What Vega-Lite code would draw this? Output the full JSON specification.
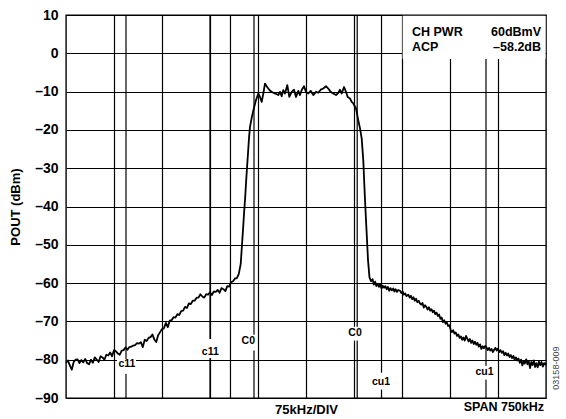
{
  "$schema": "https://vega.github.io/schema/vega-lite/v6.json",
  "width": 480,
  "height": 383,
  "autosize": "none",
  "padding": {"left": 66, "top": 15, "right": 20, "bottom": 21},
  "background": "white",
  "config": {
    "view": {"stroke": "black", "strokeWidth": 1.4},
    "font": "Liberation Sans",
    "axis": {
      "grid": true, "gridColor": "black", "gridOpacity": 1, "gridWidth": 1.2,
      "domain": false, "ticks": false,
      "labelFont": "Liberation Sans", "labelFontWeight": "bold", "labelColor": "black",
      "titleFont": "Liberation Sans", "titleFontWeight": "bold", "titleColor": "black"
    }
  },
  "datasets": {
    "trace": [
      {"f": -375, "db": -80.8}, {"f": -372, "db": -80.2}, {"f": -369, "db": -81.5}, {"f": -366, "db": -82.6},
      {"f": -363, "db": -80.6}, {"f": -360, "db": -80.0}, {"f": -357, "db": -79.9}, {"f": -354, "db": -80.9},
      {"f": -351, "db": -80.1}, {"f": -348, "db": -80.7}, {"f": -345, "db": -79.8}, {"f": -342, "db": -80.9},
      {"f": -339, "db": -81.2}, {"f": -336, "db": -80.0}, {"f": -333, "db": -80.8}, {"f": -330, "db": -79.4},
      {"f": -327, "db": -80.0}, {"f": -324, "db": -80.6}, {"f": -321, "db": -79.1}, {"f": -318, "db": -79.4},
      {"f": -315, "db": -80.0}, {"f": -312, "db": -78.7}, {"f": -309, "db": -78.9}, {"f": -306, "db": -78.1},
      {"f": -303, "db": -79.1}, {"f": -300, "db": -77.5}, {"f": -297, "db": -77.8}, {"f": -294, "db": -78.4},
      {"f": -291, "db": -78.7}, {"f": -288, "db": -77.6}, {"f": -285, "db": -77.5}, {"f": -282, "db": -76.8},
      {"f": -279, "db": -77.4}, {"f": -276, "db": -76.7}, {"f": -273, "db": -76.6}, {"f": -270, "db": -76.3},
      {"f": -267, "db": -76.2}, {"f": -264, "db": -75.7}, {"f": -261, "db": -75.8}, {"f": -258, "db": -75.4},
      {"f": -255, "db": -76.7}, {"f": -252, "db": -74.8}, {"f": -249, "db": -75.1}, {"f": -246, "db": -74.3},
      {"f": -243, "db": -74.1}, {"f": -240, "db": -73.4}, {"f": -237, "db": -74.7}, {"f": -234, "db": -75.4},
      {"f": -231, "db": -73.6}, {"f": -228, "db": -72.8}, {"f": -225, "db": -72.0}, {"f": -222, "db": -71.8},
      {"f": -219, "db": -70.4}, {"f": -216, "db": -71.5}, {"f": -213, "db": -69.8}, {"f": -210, "db": -69.7},
      {"f": -207, "db": -68.9}, {"f": -204, "db": -69.0}, {"f": -201, "db": -68.1}, {"f": -198, "db": -68.3},
      {"f": -195, "db": -67.3}, {"f": -192, "db": -67.2}, {"f": -189, "db": -66.2}, {"f": -186, "db": -66.5},
      {"f": -183, "db": -65.3}, {"f": -180, "db": -65.5}, {"f": -177, "db": -64.6}, {"f": -174, "db": -64.6},
      {"f": -171, "db": -63.8}, {"f": -168, "db": -63.8}, {"f": -165, "db": -62.9}, {"f": -162, "db": -63.5},
      {"f": -159, "db": -63.8}, {"f": -156, "db": -62.9}, {"f": -153, "db": -63.0}, {"f": -150, "db": -62.4},
      {"f": -147, "db": -63.1}, {"f": -144, "db": -62.2}, {"f": -141, "db": -62.3}, {"f": -138, "db": -61.8},
      {"f": -135, "db": -62.5}, {"f": -132, "db": -61.3}, {"f": -129, "db": -61.6}, {"f": -126, "db": -62.1},
      {"f": -123, "db": -60.8}, {"f": -120, "db": -60.9}, {"f": -117, "db": -59.8}, {"f": -114, "db": -59.5},
      {"f": -111, "db": -58.8}, {"f": -108, "db": -58.7}, {"f": -105, "db": -57.6}, {"f": -102, "db": -55.0},
      {"f": -100, "db": -50.0}, {"f": -98, "db": -45.0}, {"f": -96.5, "db": -41.0}, {"f": -95.3, "db": -38.3},
      {"f": -93, "db": -32.0}, {"f": -91, "db": -27.0}, {"f": -89, "db": -22.0}, {"f": -87.5, "db": -19.2},
      {"f": -85, "db": -17.0}, {"f": -82.3, "db": -14.9}, {"f": -78.1, "db": -12.2}, {"f": -74.5, "db": -10.5},
      {"f": -71.9, "db": -11.4}, {"f": -69.2, "db": -12.7}, {"f": -66.7, "db": -10.5}, {"f": -64.1, "db": -7.9},
      {"f": -61.5, "db": -8.6}, {"f": -58.9, "db": -9.2}, {"f": -56, "db": -9.8}, {"f": -53.6, "db": -10.07},
      {"f": -51, "db": -10.3}, {"f": -48.4, "db": -10.5}, {"f": -45.8, "db": -10.7}, {"f": -43.3, "db": -10.9},
      {"f": -40.6, "db": -10.07}, {"f": -38, "db": -11.2}, {"f": -35.5, "db": -9.6}, {"f": -32.8, "db": -10.5},
      {"f": -29.2, "db": -8.3}, {"f": -26.1, "db": -11.4}, {"f": -22.3, "db": -10.07}, {"f": -18.75, "db": -9.5},
      {"f": -15.6, "db": -11.4}, {"f": -12, "db": -9.8}, {"f": -9.4, "db": -10.9}, {"f": -6.7, "db": -9.6},
      {"f": -3.1, "db": -8.6}, {"f": 0, "db": -10.07}, {"f": 3.6, "db": -10.5}, {"f": 7.3, "db": -9.8},
      {"f": 11.4, "db": -10.9}, {"f": 15.6, "db": -10.07}, {"f": 19.2, "db": -10.3}, {"f": 23, "db": -9.5},
      {"f": 27, "db": -9.2}, {"f": 31.25, "db": -8.6}, {"f": 34.8, "db": -9.2}, {"f": 38.6, "db": -10.07},
      {"f": 42.7, "db": -10.5}, {"f": 46.9, "db": -10.9}, {"f": 50.5, "db": -10.3}, {"f": 53.1, "db": -9.5},
      {"f": 55.8, "db": -10.5}, {"f": 59.4, "db": -8.8}, {"f": 62.5, "db": -10.07}, {"f": 65.2, "db": -11.4},
      {"f": 68.75, "db": -11.8}, {"f": 71.4, "db": -12.7}, {"f": 73.9, "db": -13.1}, {"f": 78.1, "db": -14.4},
      {"f": 81.7, "db": -17.5}, {"f": 84.4, "db": -19.6}, {"f": 87, "db": -22.2}, {"f": 89.5, "db": -27.9},
      {"f": 92.2, "db": -38.3}, {"f": 94.5, "db": -46.0}, {"f": 96.9, "db": -54.0}, {"f": 99.2, "db": -58.5},
      {"f": 101.6, "db": -59.5}, {"f": 104, "db": -59.0}, {"f": 106, "db": -60.4}, {"f": 108, "db": -59.6},
      {"f": 110, "db": -60.8}, {"f": 112, "db": -60.2}, {"f": 114, "db": -61.0}, {"f": 115.6, "db": -60.3},
      {"f": 118, "db": -61.4}, {"f": 120, "db": -60.7}, {"f": 122, "db": -61.2}, {"f": 124, "db": -60.8},
      {"f": 126, "db": -61.6}, {"f": 128, "db": -61.0}, {"f": 130, "db": -62.0}, {"f": 132, "db": -61.3},
      {"f": 134, "db": -61.9}, {"f": 136.4, "db": -61.4}, {"f": 138, "db": -62.2}, {"f": 140, "db": -61.6},
      {"f": 142, "db": -62.3}, {"f": 144, "db": -61.8}, {"f": 146.9, "db": -62.0}, {"f": 149, "db": -62.6},
      {"f": 151, "db": -62.2}, {"f": 153, "db": -63.0}, {"f": 155, "db": -62.7}, {"f": 157, "db": -63.4},
      {"f": 159.8, "db": -63.0}, {"f": 162, "db": -63.8}, {"f": 164, "db": -63.3}, {"f": 166, "db": -64.2},
      {"f": 168, "db": -63.7}, {"f": 170, "db": -64.6}, {"f": 172, "db": -64.1}, {"f": 174, "db": -65.0},
      {"f": 176, "db": -64.6}, {"f": 178, "db": -65.3}, {"f": 180, "db": -65.6}, {"f": 182, "db": -65.2},
      {"f": 184, "db": -66.4}, {"f": 186, "db": -65.8}, {"f": 188, "db": -66.2}, {"f": 190, "db": -66.9},
      {"f": 192, "db": -66.3}, {"f": 194, "db": -67.2}, {"f": 196, "db": -66.8}, {"f": 198, "db": -67.6},
      {"f": 200, "db": -67.2}, {"f": 202, "db": -68.1}, {"f": 204, "db": -67.7}, {"f": 206, "db": -68.6},
      {"f": 208, "db": -68.2}, {"f": 210, "db": -69.3}, {"f": 212, "db": -69.0}, {"f": 214, "db": -70.2},
      {"f": 216, "db": -69.7}, {"f": 218, "db": -70.6}, {"f": 220, "db": -70.2}, {"f": 222, "db": -71.2},
      {"f": 224, "db": -71.0}, {"f": 226, "db": -72.2}, {"f": 228, "db": -72.8}, {"f": 230, "db": -72.3},
      {"f": 232, "db": -73.2}, {"f": 234, "db": -72.9}, {"f": 236, "db": -73.8}, {"f": 238, "db": -73.4},
      {"f": 240, "db": -74.3}, {"f": 242, "db": -73.9}, {"f": 244, "db": -74.8}, {"f": 246, "db": -74.2},
      {"f": 248, "db": -75.0}, {"f": 250, "db": -73.8}, {"f": 252, "db": -74.5}, {"f": 254, "db": -75.2},
      {"f": 256, "db": -74.6}, {"f": 258, "db": -75.6}, {"f": 260, "db": -75.0}, {"f": 262, "db": -75.9},
      {"f": 264, "db": -75.3}, {"f": 266, "db": -76.1}, {"f": 268, "db": -75.6}, {"f": 270, "db": -76.6},
      {"f": 272, "db": -76.0}, {"f": 274, "db": -77.2}, {"f": 276, "db": -76.5}, {"f": 278, "db": -77.0},
      {"f": 280, "db": -76.4}, {"f": 282, "db": -76.8}, {"f": 284, "db": -77.5}, {"f": 286, "db": -76.9},
      {"f": 288, "db": -77.6}, {"f": 290, "db": -77.2}, {"f": 292, "db": -78.0}, {"f": 294, "db": -77.4},
      {"f": 296, "db": -76.9}, {"f": 298, "db": -77.6}, {"f": 300, "db": -77.1}, {"f": 302, "db": -78.0},
      {"f": 304, "db": -77.5}, {"f": 306, "db": -78.2}, {"f": 308, "db": -77.8}, {"f": 310, "db": -78.8},
      {"f": 312, "db": -78.2}, {"f": 314, "db": -78.9}, {"f": 316, "db": -78.4}, {"f": 318, "db": -79.3},
      {"f": 320, "db": -78.8}, {"f": 322, "db": -79.6}, {"f": 324, "db": -79.0}, {"f": 326, "db": -80.0},
      {"f": 328, "db": -79.4}, {"f": 330, "db": -80.2}, {"f": 332, "db": -79.7}, {"f": 334, "db": -80.8},
      {"f": 336, "db": -80.0}, {"f": 338, "db": -81.5}, {"f": 340, "db": -80.4}, {"f": 342, "db": -81.0},
      {"f": 344, "db": -79.9}, {"f": 346, "db": -81.2}, {"f": 348, "db": -80.3}, {"f": 350, "db": -82.2},
      {"f": 352, "db": -80.6}, {"f": 354, "db": -81.4}, {"f": 356, "db": -80.2}, {"f": 358, "db": -81.9},
      {"f": 360, "db": -80.9}, {"f": 362, "db": -82.0}, {"f": 364, "db": -80.5}, {"f": 366, "db": -81.4},
      {"f": 368, "db": -80.6}, {"f": 370, "db": -81.8}, {"f": 372, "db": -80.9}, {"f": 374, "db": -81.3},
      {"f": 375, "db": -80.8}
    ],
    "markers": [
      {"f": -281.25}, {"f": -150}, {"f": -118}, {"f": -81.25}, {"f": 80}, {"f": 118}, {"f": 281.25}
    ],
    "boxes": [
      {"f": -295.3, "f2": -265.6, "db": -79.8, "d2": -83.7},
      {"f": -165.6, "f2": -134.4, "db": -74.6, "d2": -79.6},
      {"f": -101.6, "f2": -78.4, "db": -73.5, "d2": -77.6},
      {"f": 66.4, "f2": 87.5, "db": -71.4, "d2": -75.0},
      {"f": 101.6, "f2": 132.8, "db": -83.4, "d2": -87.8},
      {"f": 262.5, "f2": 293.75, "db": -81.6, "d2": -85.2},
      {"f": 151, "f2": 374.3, "db": 9.8, "d2": -1.5}
    ],
    "chlabels": [
      {"f": -279.7, "db": -81.1, "t": "c11"},
      {"f": -149.5, "db": -77.9, "t": "c11"},
      {"f": -90.2, "db": -75.2, "t": "C0"},
      {"f": 76.6, "db": -73.1, "t": "C0"},
      {"f": 117.2, "db": -85.7, "t": "cu1"},
      {"f": 279, "db": -83.1, "t": "cu1"}
    ],
    "leftnotes": [
      {"f": 165.6, "db": 5.6, "t": "CH PWR"},
      {"f": 165.6, "db": 1.7, "t": "ACP"}
    ],
    "rightnotes": [
      {"f": 367.2, "db": 5.6, "t": "60dBmV"},
      {"f": 367.2, "db": 1.7, "t": "–58.2dB"},
      {"f": 371.9, "db": -92.35, "t": "SPAN 750kHz"}
    ],
    "code": [
      {"f": 390.6, "db": -82.2, "t": "03158-009"}
    ]
  },
  "layer": [
    {
      "data": {"name": "markers"},
      "mark": {"type": "rule", "color": "black", "strokeWidth": 1.2},
      "encoding": {
        "x": {"field": "f", "type": "quantitative", "scale": {"domain": [-375, 375], "nice": false, "zero": false},
          "axis": {"values": [-300, -225, -150, -75, 0, 75, 150, 225, 300], "labels": false, "title": "75kHz/DIV", "titleFontSize": 13, "titleBaseline": "middle", "titleY": 11}}
      }
    },
    {
      "data": {"name": "boxes"},
      "mark": {"type": "rect", "color": "white", "opacity": 1},
      "encoding": {
        "x": {"field": "f", "type": "quantitative", "scale": {"domain": [-375, 375], "nice": false, "zero": false},
          "axis": {"values": [-300, -225, -150, -75, 0, 75, 150, 225, 300], "labels": false, "title": "75kHz/DIV", "titleFontSize": 13, "titleBaseline": "middle", "titleY": 11}},
        "x2": {"field": "f2"},
        "y": {"field": "db", "type": "quantitative", "scale": {"domain": [-90, 10], "nice": false, "zero": false},
          "axis": {"values": [-90, -80, -70, -60, -50, -40, -30, -20, -10, 0, 10], "labelFontSize": 14, "labelPadding": 8, "labelExpr": "replace(datum.label, '−', '–')", "title": "POUT (dBm)", "titleFontSize": 13, "titleAngle": 270, "titleBaseline": "middle", "titleX": -51, "titleY": 191.5}},
        "y2": {"field": "d2"}
      }
    },
    {
      "data": {"name": "chlabels"},
      "mark": {"type": "text", "font": "Liberation Sans", "fontWeight": "bold", "fontSize": 10.5, "color": "black", "align": "center", "baseline": "middle"},
      "encoding": {
        "x": {"field": "f", "type": "quantitative", "scale": {"domain": [-375, 375], "nice": false, "zero": false},
          "axis": {"values": [-300, -225, -150, -75, 0, 75, 150, 225, 300], "labels": false, "title": "75kHz/DIV", "titleFontSize": 13, "titleBaseline": "middle", "titleY": 11}},
        "y": {"field": "db", "type": "quantitative", "scale": {"domain": [-90, 10], "nice": false, "zero": false},
          "axis": {"values": [-90, -80, -70, -60, -50, -40, -30, -20, -10, 0, 10], "labelFontSize": 14, "labelPadding": 8, "labelExpr": "replace(datum.label, '−', '–')", "title": "POUT (dBm)", "titleFontSize": 13, "titleAngle": 270, "titleBaseline": "middle", "titleX": -51, "titleY": 191.5}},
        "text": {"field": "t"}
      }
    },
    {
      "data": {"name": "leftnotes"},
      "mark": {"type": "text", "font": "Liberation Sans", "fontWeight": "bold", "fontSize": 12.5, "color": "black", "align": "left", "baseline": "middle"},
      "encoding": {
        "x": {"field": "f", "type": "quantitative", "scale": {"domain": [-375, 375], "nice": false, "zero": false},
          "axis": {"values": [-300, -225, -150, -75, 0, 75, 150, 225, 300], "labels": false, "title": "75kHz/DIV", "titleFontSize": 13, "titleBaseline": "middle", "titleY": 11}},
        "y": {"field": "db", "type": "quantitative", "scale": {"domain": [-90, 10], "nice": false, "zero": false},
          "axis": {"values": [-90, -80, -70, -60, -50, -40, -30, -20, -10, 0, 10], "labelFontSize": 14, "labelPadding": 8, "labelExpr": "replace(datum.label, '−', '–')", "title": "POUT (dBm)", "titleFontSize": 13, "titleAngle": 270, "titleBaseline": "middle", "titleX": -51, "titleY": 191.5}},
        "text": {"field": "t"}
      }
    },
    {
      "data": {"name": "rightnotes"},
      "mark": {"type": "text", "font": "Liberation Sans", "fontWeight": "bold", "fontSize": 12.5, "color": "black", "align": "right", "baseline": "middle"},
      "encoding": {
        "x": {"field": "f", "type": "quantitative", "scale": {"domain": [-375, 375], "nice": false, "zero": false},
          "axis": {"values": [-300, -225, -150, -75, 0, 75, 150, 225, 300], "labels": false, "title": "75kHz/DIV", "titleFontSize": 13, "titleBaseline": "middle", "titleY": 11}},
        "y": {"field": "db", "type": "quantitative", "scale": {"domain": [-90, 10], "nice": false, "zero": false},
          "axis": {"values": [-90, -80, -70, -60, -50, -40, -30, -20, -10, 0, 10], "labelFontSize": 14, "labelPadding": 8, "labelExpr": "replace(datum.label, '−', '–')", "title": "POUT (dBm)", "titleFontSize": 13, "titleAngle": 270, "titleBaseline": "middle", "titleX": -51, "titleY": 191.5}},
        "text": {"field": "t"}
      }
    },
    {
      "data": {"name": "code"},
      "mark": {"type": "text", "font": "Liberation Sans", "fontSize": 9, "color": "#444444", "align": "center", "baseline": "middle", "angle": 270},
      "encoding": {
        "x": {"field": "f", "type": "quantitative", "scale": {"domain": [-375, 375], "nice": false, "zero": false},
          "axis": {"values": [-300, -225, -150, -75, 0, 75, 150, 225, 300], "labels": false, "title": "75kHz/DIV", "titleFontSize": 13, "titleBaseline": "middle", "titleY": 11}},
        "y": {"field": "db", "type": "quantitative", "scale": {"domain": [-90, 10], "nice": false, "zero": false},
          "axis": {"values": [-90, -80, -70, -60, -50, -40, -30, -20, -10, 0, 10], "labelFontSize": 14, "labelPadding": 8, "labelExpr": "replace(datum.label, '−', '–')", "title": "POUT (dBm)", "titleFontSize": 13, "titleAngle": 270, "titleBaseline": "middle", "titleX": -51, "titleY": 191.5}},
        "text": {"field": "t"}
      }
    },
    {
      "data": {"name": "trace"},
      "mark": {"type": "line", "color": "black", "strokeWidth": 1.8, "strokeJoin": "round"},
      "encoding": {
        "x": {"field": "f", "type": "quantitative", "scale": {"domain": [-375, 375], "nice": false, "zero": false},
          "axis": {"values": [-300, -225, -150, -75, 0, 75, 150, 225, 300], "labels": false, "title": "75kHz/DIV", "titleFontSize": 13, "titleBaseline": "middle", "titleY": 11}},
        "y": {"field": "db", "type": "quantitative", "scale": {"domain": [-90, 10], "nice": false, "zero": false},
          "axis": {"values": [-90, -80, -70, -60, -50, -40, -30, -20, -10, 0, 10], "labelFontSize": 14, "labelPadding": 8, "labelExpr": "replace(datum.label, '−', '–')", "title": "POUT (dBm)", "titleFontSize": 13, "titleAngle": 270, "titleBaseline": "middle", "titleX": -51, "titleY": 191.5}}
      }
    }
  ]
}
